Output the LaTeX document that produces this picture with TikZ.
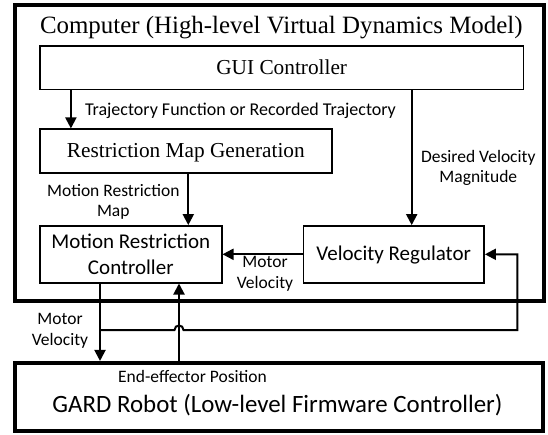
\documentclass[tikz,border=0pt]{standalone}
\usepackage{fontspec}
\setmainfont{Liberation Serif}
\newfontfamily\carlito{Carlito}
\usetikzlibrary{arrows.meta}
\begin{document}
\begin{tikzpicture}[x=1pt,y=-1pt,
  every node/.style={inner sep=0pt, outer sep=0pt},
  block/.style={draw, line width=1.7pt, outer sep=0.85pt},
  frame/.style={draw, line width=4pt, outer sep=2pt},
  flow/.style={line width=2pt, -{Triangle[length=11pt,width=11pt]}},
  serifbox/.style={block, font=\fontsize{21.3}{26}\selectfont, text height=12.6pt, text depth=0pt},
  sansbox/.style={block, font=\carlito\fontsize{21}{26}\selectfont, align=center},
  note/.style={font=\carlito\fontsize{17.5}{20.5}\selectfont, align=center, anchor=base},
]
\useasboundingbox (0,0) rectangle (548,434);

% high-level part: the computer
\node[frame, minimum width=528.5pt, minimum height=296.5pt] (computer) at (279.3,152.8) {};
\node[anchor=base, font=\fontsize{24.9}{30}\selectfont] (title) at (281.3,33.3)
  {Computer (High-level Virtual Dynamics Model)};
\node[serifbox, minimum width=483.3pt, minimum height=43.3pt] (gui) at (281.7,67.7) {GUI Controller};
\node[serifbox, minimum width=291.7pt, minimum height=43.4pt] (rmg) at (185.8,151) {Restriction Map Generation};
\node[sansbox, minimum width=181.7pt, minimum height=56.7pt] (mrc) at (130.8,254.3) {Motion Restriction\\Controller};
\node[sansbox, minimum width=180.7pt, minimum height=56.7pt, text height=11.4pt, text depth=0pt] (vr) at (393.7,254.3) {Velocity Regulator};

% low-level part: the robot
\node[frame, minimum width=528pt, minimum height=68.5pt] (gard) at (279,397.2) {};
\node[anchor=base, font=\carlito\fontsize{24.9}{30}\selectfont] (gardtext) at (277.5,412.7)
  {GARD Robot (Low-level Firmware Controller)};

% signal labels (two-line labels are placed by their last baseline)
\node[note, anchor=base west, font=\carlito\fontsize{18}{20.5}\selectfont] (ltraj) at (85,115)
  {Trajectory Function or Recorded Trajectory};
\node[note] (lmap) at (113.3,216.7) {Motion Restriction\\Map};
\node[note] (ldes) at (478.3,182.7) {Desired Velocity\\Magnitude};
\node[note] (lmv1) at (265,288.3) {Motor\\Velocity};
\node[note] (lmv2) at (60,345) {Motor\\Velocity};
\node[note] (lend) at (192.5,382.7) {End-effector Position};

% signal flow
\draw[flow] ([xshift=31.7pt]gui.south west) -- ([xshift=31.7pt]gui.south west |- rmg.north);
\draw[flow] ([xshift=2.5pt]rmg.south) -- ([xshift=2.5pt]rmg.south |- mrc.north);
\draw[flow] ([xshift=18pt]vr.north |- gui.south) -- ([xshift=18pt]vr.north);
\draw[flow] (vr.west) -- (mrc.east);
\draw[flow] ([xshift=-30.8pt]mrc.south) -- ([xshift=-30.8pt]mrc.south |- gard.north);
\draw[flow] ([xshift=48.2pt]mrc.south |- gard.north) -- ([xshift=48.2pt]mrc.south);

% velocity feedback, hopping over the position line
\coordinate (split) at (100,330);
\coordinate (hopL) at (174.5,330);
\coordinate (hopR) at (183.5,330);
\coordinate (turn) at (517.3,330);
\draw[flow] (split) -- (hopL) .. controls (174.5,324) and (183.5,324) .. (hopR) -- (turn) |- (vr.east);
\end{tikzpicture}
\end{document}
